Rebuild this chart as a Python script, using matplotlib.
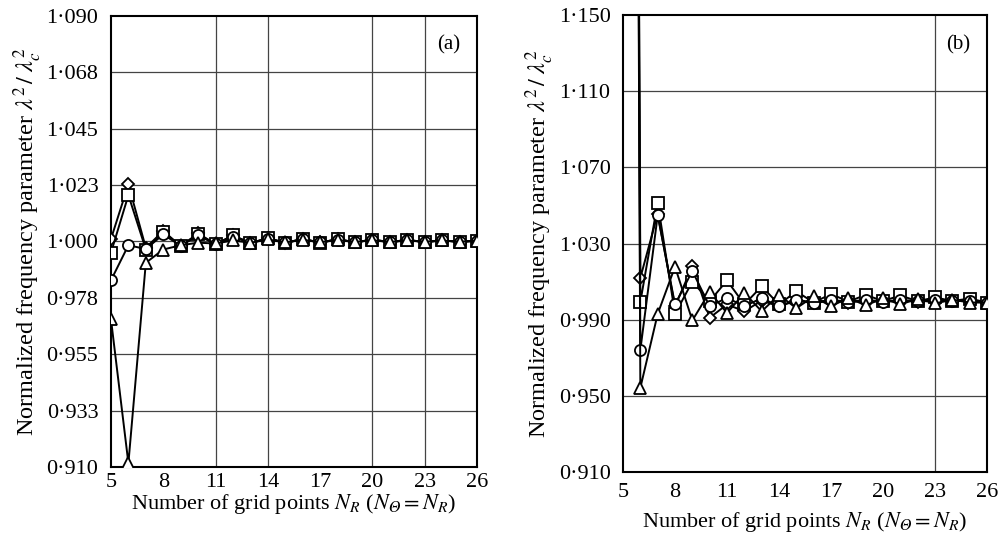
import numpy as np
import matplotlib
matplotlib.use("Agg")
import matplotlib.pyplot as plt
from matplotlib.ticker import FixedLocator, FixedFormatter

plt.rcParams["font.family"] = ["Liberation Serif", "DejaVu Serif"]
plt.rcParams["mathtext.fontset"] = "stix"

# grid sizes N_R
n_grid = list(range(5, 27))

# (a) convergence of the four modes
a_diamond = [1.001, 1.0228, 0.9975, 1.0042, 0.9982, 1.0032, 0.9990, 1.0024, 0.9994, 1.0013, 0.9995,
             1.0010, 0.9996, 1.0009, 0.9997, 1.0007, 0.9998, 1.0006, 0.9998, 1.0004, 0.9999, 1.0003]
a_square = [0.9955, 1.0185, 0.9968, 1.0038, 0.9981, 1.0030, 0.9988, 1.0024, 0.9993, 1.0013, 0.9994,
            1.0010, 0.9995, 1.0009, 0.9997, 1.0007, 0.9998, 1.0006, 0.9998, 1.0004, 0.9999, 1.0003]
a_circle = [0.9845, 0.9985, 0.9970, 1.0028, 0.9983, 1.0024, 0.9990, 1.0018, 0.9995, 1.0011, 0.9996,
            1.0008, 0.9997, 1.0007, 0.9998, 1.0006, 0.9998, 1.0005, 0.9999, 1.0004, 0.9999, 1.0003]
a_triangle = [0.9690, 0.9115, 0.9915, 0.9968, 0.9985, 0.9995, 0.9992, 1.0004, 0.9995, 1.0008, 0.9996,
              1.0007, 0.9997, 1.0006, 0.9998, 1.0005, 0.9998, 1.0004, 0.9999, 1.0004, 0.9999, 1.0003]

# (b) values at N_R = 5 lie far above the axis
b_diamond = [3.0, 1.0120, 1.0455, 0.9970, 1.0180, 0.9910, 0.9980, 0.9944, 1.0000, 0.9970, 1.0000,
             0.9987, 1.0000, 0.9990, 1.0000, 0.9993, 1.0000, 0.9995, 1.0000, 0.9997, 1.0000, 0.9990]
b_square = [3.0, 0.9993, 1.0515, 0.9930, 1.0100, 0.9997, 1.0106, 0.9980, 1.0075, 0.9980, 1.0049,
            0.9990, 1.0035, 0.9995, 1.0030, 0.9998, 1.0027, 0.9997, 1.0017, 0.9998, 1.0011, 0.9990]
b_circle = [3.0, 0.9741, 1.0448, 0.9980, 1.0156, 0.9970, 1.0015, 0.9970, 1.0013, 0.9970, 1.0005,
            0.9990, 1.0005, 0.9993, 1.0005, 0.9995, 1.0004, 0.9997, 1.0003, 0.9998, 1.0000, 0.9990]
b_triangle = [3.0, 0.9542, 0.9930, 1.0178, 0.9896, 1.0046, 0.9935, 1.0040, 0.9944, 1.0030, 0.9960,
              1.0022, 0.9970, 1.0015, 0.9975, 1.0012, 0.9980, 1.0010, 0.9985, 1.0005, 0.9990, 0.9990]

x_ticks = [5, 8, 11, 14, 17, 20, 23, 26]
a_yticks = [0.910, 0.9325, 0.955, 0.9775, 1.000, 1.0225, 1.045, 1.0675, 1.090]
a_ylabels = ["0\u00b7910", "0\u00b7933", "0\u00b7955", "0\u00b7978", "1\u00b7000",
             "1\u00b7023", "1\u00b7045", "1\u00b7068", "1\u00b7090"]
b_yticks = [0.910, 0.950, 0.990, 1.030, 1.070, 1.110, 1.150]
b_ylabels = ["0\u00b7910", "0\u00b7950", "0\u00b7990", "1\u00b7030", "1\u00b7070",
             "1\u00b7110", "1\u00b7150"]
a_vgrid = [11, 14, 20, 23]
b_vgrid = [23]

XLABEL = "Number of grid points $N_R$ ($N_{\U0001D6E9} = N_R$)"
YLABEL = r"Normalized frequency parameter $\lambda^2\,/\;\lambda_c^2$"


def draw_panel(ax, series, yticks, ylabels, vgrid, tag, xpad, xlabelpad):
    ax.set_xlim(5, 26)
    ax.set_ylim(yticks[0], yticks[-1])
    for y in yticks[1:-1]:
        ax.axhline(y, color="#444444", lw=0.9, zorder=1)
    for x in vgrid:
        ax.axvline(x, color="#444444", lw=0.9, zorder=1)
    # diamond, square, circle, triangle
    styles = [("D", 6.5), ("s", 8), ("o", 8), ("^", 8)]
    for vals, (mk, ms) in zip(series, styles):
        ax.plot(n_grid, vals, color="black", lw=1.4, marker=mk, ms=ms,
                mfc="white", mec="black", mew=1.3, zorder=3)
    ax.xaxis.set_major_locator(FixedLocator(x_ticks))
    ax.yaxis.set_major_locator(FixedLocator(yticks))
    ax.yaxis.set_major_formatter(FixedFormatter(ylabels))
    ax.tick_params(length=0, labelsize=16)
    ax.tick_params(axis="y", pad=9)
    ax.tick_params(axis="x", pad=xpad)
    for sp in ax.spines.values():
        sp.set_linewidth(1.5)
    ax.set_xlabel(XLABEL, fontsize=16, labelpad=xlabelpad)
    ax.set_ylabel(YLABEL, fontsize=17.5, labelpad=2)
    ax.text(0.955, 0.935, tag, transform=ax.transAxes, ha="right", va="center", fontsize=15)


fig = plt.figure(figsize=(10.06, 5.4), dpi=100)
ax1 = fig.add_axes([0.1103, 0.1352, 0.3639, 0.8352])
ax2 = fig.add_axes([0.6193, 0.1259, 0.3618, 0.8463])

draw_panel(ax1, [a_diamond, a_square, a_circle, a_triangle], a_yticks, a_ylabels, a_vgrid, "(a)", 4, 0)
draw_panel(ax2, [b_diamond, b_square, b_circle, b_triangle], b_yticks, b_ylabels, b_vgrid, "(b)", 8, 6)

fig.savefig("out.png", dpi=100)
